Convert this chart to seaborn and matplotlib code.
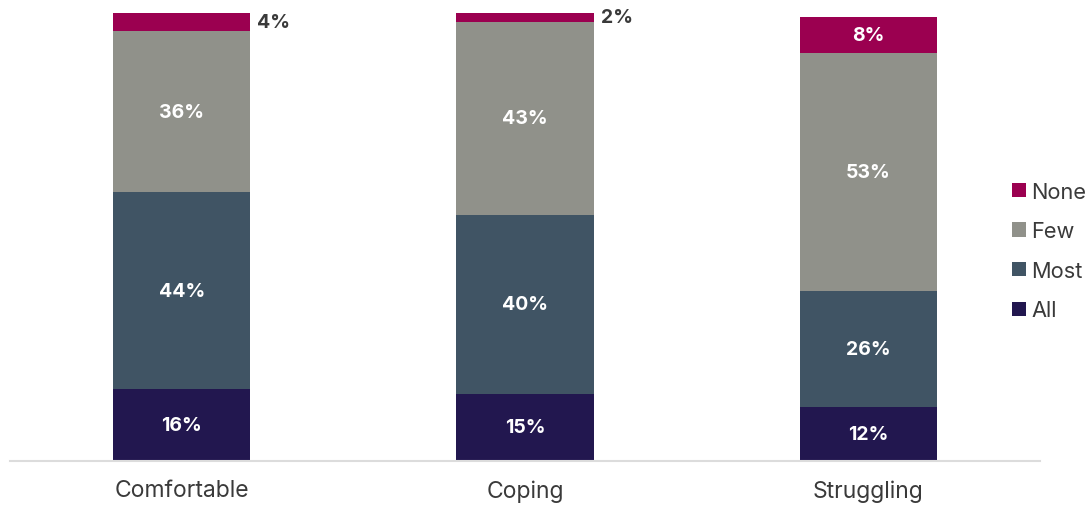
import matplotlib
matplotlib.use("Agg")
import matplotlib.pyplot as plt
from matplotlib.patches import Patch
import numpy as np
import pandas as pd
import seaborn as sns

# Share of each group, stacked from bottom (All) to top (None)
categories = ["Comfortable", "Coping", "Struggling"]
series_names = ["All", "Most", "Few", "None"]
all_vals = [16, 15, 12]
most_vals = [44, 40, 26]
few_vals = [36, 43, 53]
none_vals = [4, 2, 8]

colors = {
    "All": "#22174F",
    "Most": "#405464",
    "Few": "#90918A",
    "None": "#9B0050",
}

sns.set_theme(style="white")
plt.rcParams["font.family"] = ["Inter", "DejaVu Sans"]

values = {"All": all_vals, "Most": most_vals, "Few": few_vals, "None": none_vals}
df = pd.DataFrame({"category": categories, **values})

# cumulative tops of each stacked segment
cum = df[series_names].cumsum(axis=1)
bottoms = cum.shift(1, axis=1).fillna(0)

fig = plt.figure(figsize=(10.91, 5.06), dpi=100)
ax = fig.add_axes([10 / 1091, 44 / 506, 1030 / 1091, 448 / 506])

# draw the tallest stack first so lower segments sit on top of it
for name in reversed(series_names):
    sns.barplot(x=df["category"], y=cum[name], color=colors[name],
                saturation=1, width=0.4, linewidth=0, ax=ax, errorbar=None)

ax.set_xlim(-0.5, 2.5)
ax.set_ylim(0, 100)
ax.set_xlabel("")
ax.set_ylabel("")
ax.set_yticks([])
ax.tick_params(axis="x", length=0, pad=13, labelsize=16.5, labelcolor="#3a3a3a")
for side in ["top", "left", "right"]:
    ax.spines[side].set_visible(False)
ax.spines["bottom"].set_color("#dcdcdc")
ax.spines["bottom"].set_linewidth(1.5)

# value labels
for i in range(len(categories)):
    for name in series_names:
        v = df.loc[i, name]
        mid = bottoms.loc[i, name] + v / 2
        if v < 5:
            ax.text(i + 0.22, mid, f"{v}%", ha="left", va="center",
                    fontsize=14, fontweight="bold", color="#3a3a3a")
        else:
            ax.text(i, mid, f"{v}%", ha="center", va="center",
                    fontsize=14, fontweight="bold", color="white")

handles = [Patch(facecolor=colors[n], edgecolor="none") for n in reversed(series_names)]
fig.legend(handles, list(reversed(series_names)), loc="center left",
           bbox_to_anchor=(1012 / 1091, 0.502), frameon=False, borderpad=0,
           borderaxespad=0, handlelength=0.62, handleheight=0.62,
           handletextpad=0.25, labelspacing=0.9, fontsize=15.7,
           labelcolor="#3a3a3a")

fig.savefig("out.png", dpi=100)
